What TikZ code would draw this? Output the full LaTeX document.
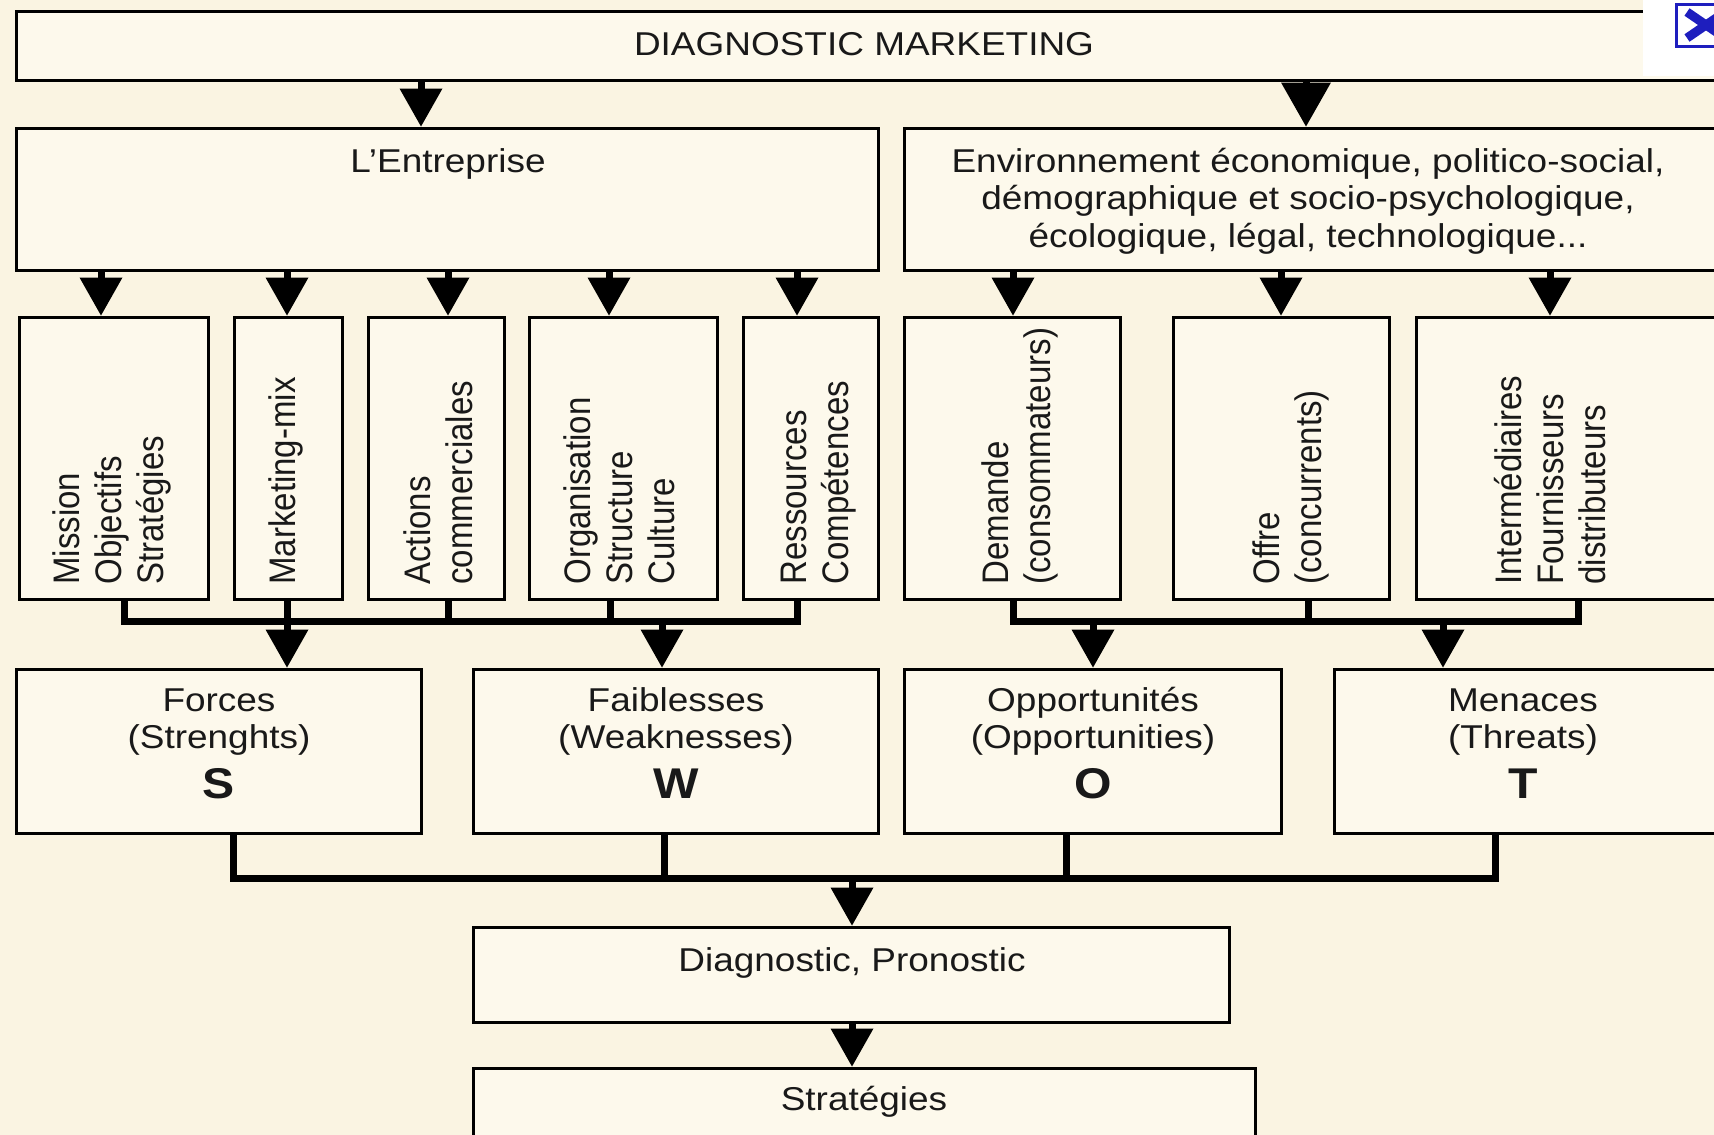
\documentclass[tikz,border=0pt]{standalone}
\usepackage{fontspec}
\setmainfont{Liberation Sans}
\usepackage{graphicx}
\usetikzlibrary{arrows.meta,fit}
\definecolor{bgc}{RGB}{250,244,226}
\definecolor{boxfill}{RGB}{253,249,236}
\definecolor{textc}{RGB}{25,25,25}
\definecolor{iconblue}{RGB}{30,30,190}
\newcommand\hx[1]{\scalebox{1.12}[1]{#1}}
\newcommand\vx[1]{\scalebox{1}[1.12]{#1}}
\begin{document}
\begin{tikzpicture}[x=0.5pt,y=-0.5pt,
  box/.style={draw=black, line width=1.5pt, fill=boxfill, inner sep=0pt},
  txt/.style={inner sep=0pt, text=textc, anchor=base, font=\fontsize{16.5pt}{18.8pt}\selectfont},
  big/.style={inner sep=0pt, text=textc, anchor=base, font=\fontsize{21.5pt}{24pt}\selectfont\bfseries},
  vtxt/.style={inner sep=0pt, text=textc, rotate=90, anchor=base west, font=\fontsize{16.5pt}{18.8pt}\selectfont},
  conn/.style={line width=3.5pt, line join=miter},
  arr/.style={line width=3.5pt, -{Triangle[width=21.5pt,length=19pt,line width=0pt]}},
  bigarr/.style={line width=3.5pt, -{Triangle[width=25pt,length=22pt,line width=0pt]}},
]
\useasboundingbox (0,0) rectangle (1714,1135);
\clip (0,0) rectangle (1714,1135);
\fill[bgc] (0,0) rectangle (1714,1135);

% boxes
\node[box, fit={(16,11) (1760,80)}] (diag) {};
\node[box, fit={(16,128) (878,270)}] (ent) {};
\node[box, fit={(904,128) (1760,270)}] (env) {};
\node[box, fit={(19,317) (208,599)}] (mis) {};
\node[box, fit={(234,317) (342,599)}] (mkt) {};
\node[box, fit={(368,317) (504,599)}] (act) {};
\node[box, fit={(529,317) (717,599)}] (org) {};
\node[box, fit={(743,317) (878,599)}] (res) {};
\node[box, fit={(904,317) (1120,599)}] (dem) {};
\node[box, fit={(1173,317) (1389,599)}] (off) {};
\node[box, fit={(1416,317) (1760,599)}] (int) {};
\node[box, fit={(16,669) (421,833)}] (forc) {};
\node[box, fit={(473,669) (878,833)}] (faib) {};
\node[box, fit={(904,669) (1281,833)}] (opp) {};
\node[box, fit={(1334,669) (1760,833)}] (men) {};
\node[box, fit={(473,927) (1229,1022)}] (dp) {};
\node[box, fit={(473,1068) (1255,1180)}] (str) {};

% close icon
\fill[white] (1643,0) rectangle (1714,76);
\draw[iconblue, line width=1.5pt, fill=white] (1676,4) rectangle (1740,46);
\draw[iconblue, line width=4.5pt] (1687,12) -- (1725,38) (1687,38) -- (1725,12);

% texts
\node[txt] (diagt) at (864,55) {\hx{DIAGNOSTIC MARKETING}};
\node[txt] (entt) at (448,172) {\hx{L’Entreprise}};
\node[txt] (envt) at (1308,172) {\hx{\begin{tabular}[t]{@{}c@{}}Environnement économique, politico-social,\\ démographique et socio-psychologique,\\ écologique, légal, technologique...\end{tabular}}};

\node[vtxt] (mist) at (79,585) {\vx{\begin{tabular}[t]{@{}l@{}}Mission\\Objectifs\\Stratégies\end{tabular}}};
\node[vtxt] (mktt) at (295,585) {\vx{\begin{tabular}[t]{@{}l@{}}Marketing-mix\end{tabular}}};
\node[vtxt] (actt) at (430,585) {\vx{\begin{tabular}[t]{@{}l@{}}Actions\\commerciales\end{tabular}}};
\node[vtxt] (orgt) at (590,585) {\vx{\begin{tabular}[t]{@{}l@{}}Organisation\\Structure\\Culture\end{tabular}}};
\node[vtxt] (rest) at (806,585) {\vx{\begin{tabular}[t]{@{}l@{}}Ressources\\Compétences\end{tabular}}};
\node[vtxt] (demt) at (1008,585) {\vx{\begin{tabular}[t]{@{}l@{}}Demande\\(consommateurs)\end{tabular}}};
\node[vtxt] (offt) at (1279,585) {\vx{\begin{tabular}[t]{@{}l@{}}Offre\\(concurrents)\end{tabular}}};
\node[vtxt] (intt) at (1521,585) {\vx{\begin{tabular}[t]{@{}l@{}}Intermédiaires\\Fournisseurs\\distributeurs\end{tabular}}};

\node[txt] (forct) at (219,711) {\hx{\begin{tabular}[t]{@{}c@{}}Forces\\(Strenghts)\end{tabular}}};
\node[big] (forcl) at (219,798) {\hx{S}};
\node[txt] (faibt) at (676,711) {\hx{\begin{tabular}[t]{@{}c@{}}Faiblesses\\(Weaknesses)\end{tabular}}};
\node[big] (faibl) at (676,798) {\hx{W}};
\node[txt] (oppt) at (1093,711) {\hx{\begin{tabular}[t]{@{}c@{}}Opportunités\\(Opportunities)\end{tabular}}};
\node[big] (oppl) at (1093,798) {\hx{O}};
\node[txt] (ment) at (1523,711) {\hx{\begin{tabular}[t]{@{}c@{}}Menaces\\(Threats)\end{tabular}}};
\node[big] (menl) at (1523,798) {\hx{T}};

\node[txt] (dpt) at (852,971) {\hx{Diagnostic, Pronostic}};
\node[txt] (strt) at (864,1110) {\hx{Stratégies}};

% bus coordinates
\coordinate (busL) at (0,621);
\coordinate (busR) at (0,621);
\coordinate (busB) at (0,878);

% connectors
\draw[arr] (421,0 |- diag.south) -- (421,0 |- ent.north);
\draw[bigarr] (1306,0 |- diag.south) -- (1306,0 |- env.north);
\foreach \x/\t in {101/mis,287/mkt,448/act,609/org,797/res}
  \draw[arr] (\x,0 |- ent.south) -- (\x,0 |- \t.north);
\foreach \x/\t in {1013/dem,1281/off,1550/int}
  \draw[arr] (\x,0 |- env.south) -- (\x,0 |- \t.north);

\draw[conn] (124,0 |- mis.south) -- (124,0 |- busL) -- (797,0 |- busL) -- (797,0 |- res.south);
\foreach \x/\t in {287/mkt,448/act,610/org}
  \draw[conn] (\x,0 |- \t.south) -- (\x,0 |- busL);
\draw[arr] (287,0 |- busL) -- (287,0 |- forc.north);
\draw[arr] (662,0 |- busL) -- (662,0 |- faib.north);

\draw[conn] (1013,0 |- dem.south) -- (1013,0 |- busR) -- (1578,0 |- busR) -- (1578,0 |- int.south);
\draw[conn] (1308,0 |- off.south) -- (1308,0 |- busR);
\draw[arr] (1093,0 |- busR) -- (1093,0 |- opp.north);
\draw[arr] (1443,0 |- busR) -- (1443,0 |- men.north);

\draw[conn] (233,0 |- forc.south) -- (233,0 |- busB) -- (1495,0 |- busB) -- (1495,0 |- men.south);
\draw[conn] (664,0 |- faib.south) -- (664,0 |- busB);
\draw[conn] (1066,0 |- opp.south) -- (1066,0 |- busB);
\draw[arr] (852,0 |- busB) -- (852,0 |- dp.north);
\draw[arr] (852,0 |- dp.south) -- (852,0 |- str.north);
\end{tikzpicture}
\end{document}
